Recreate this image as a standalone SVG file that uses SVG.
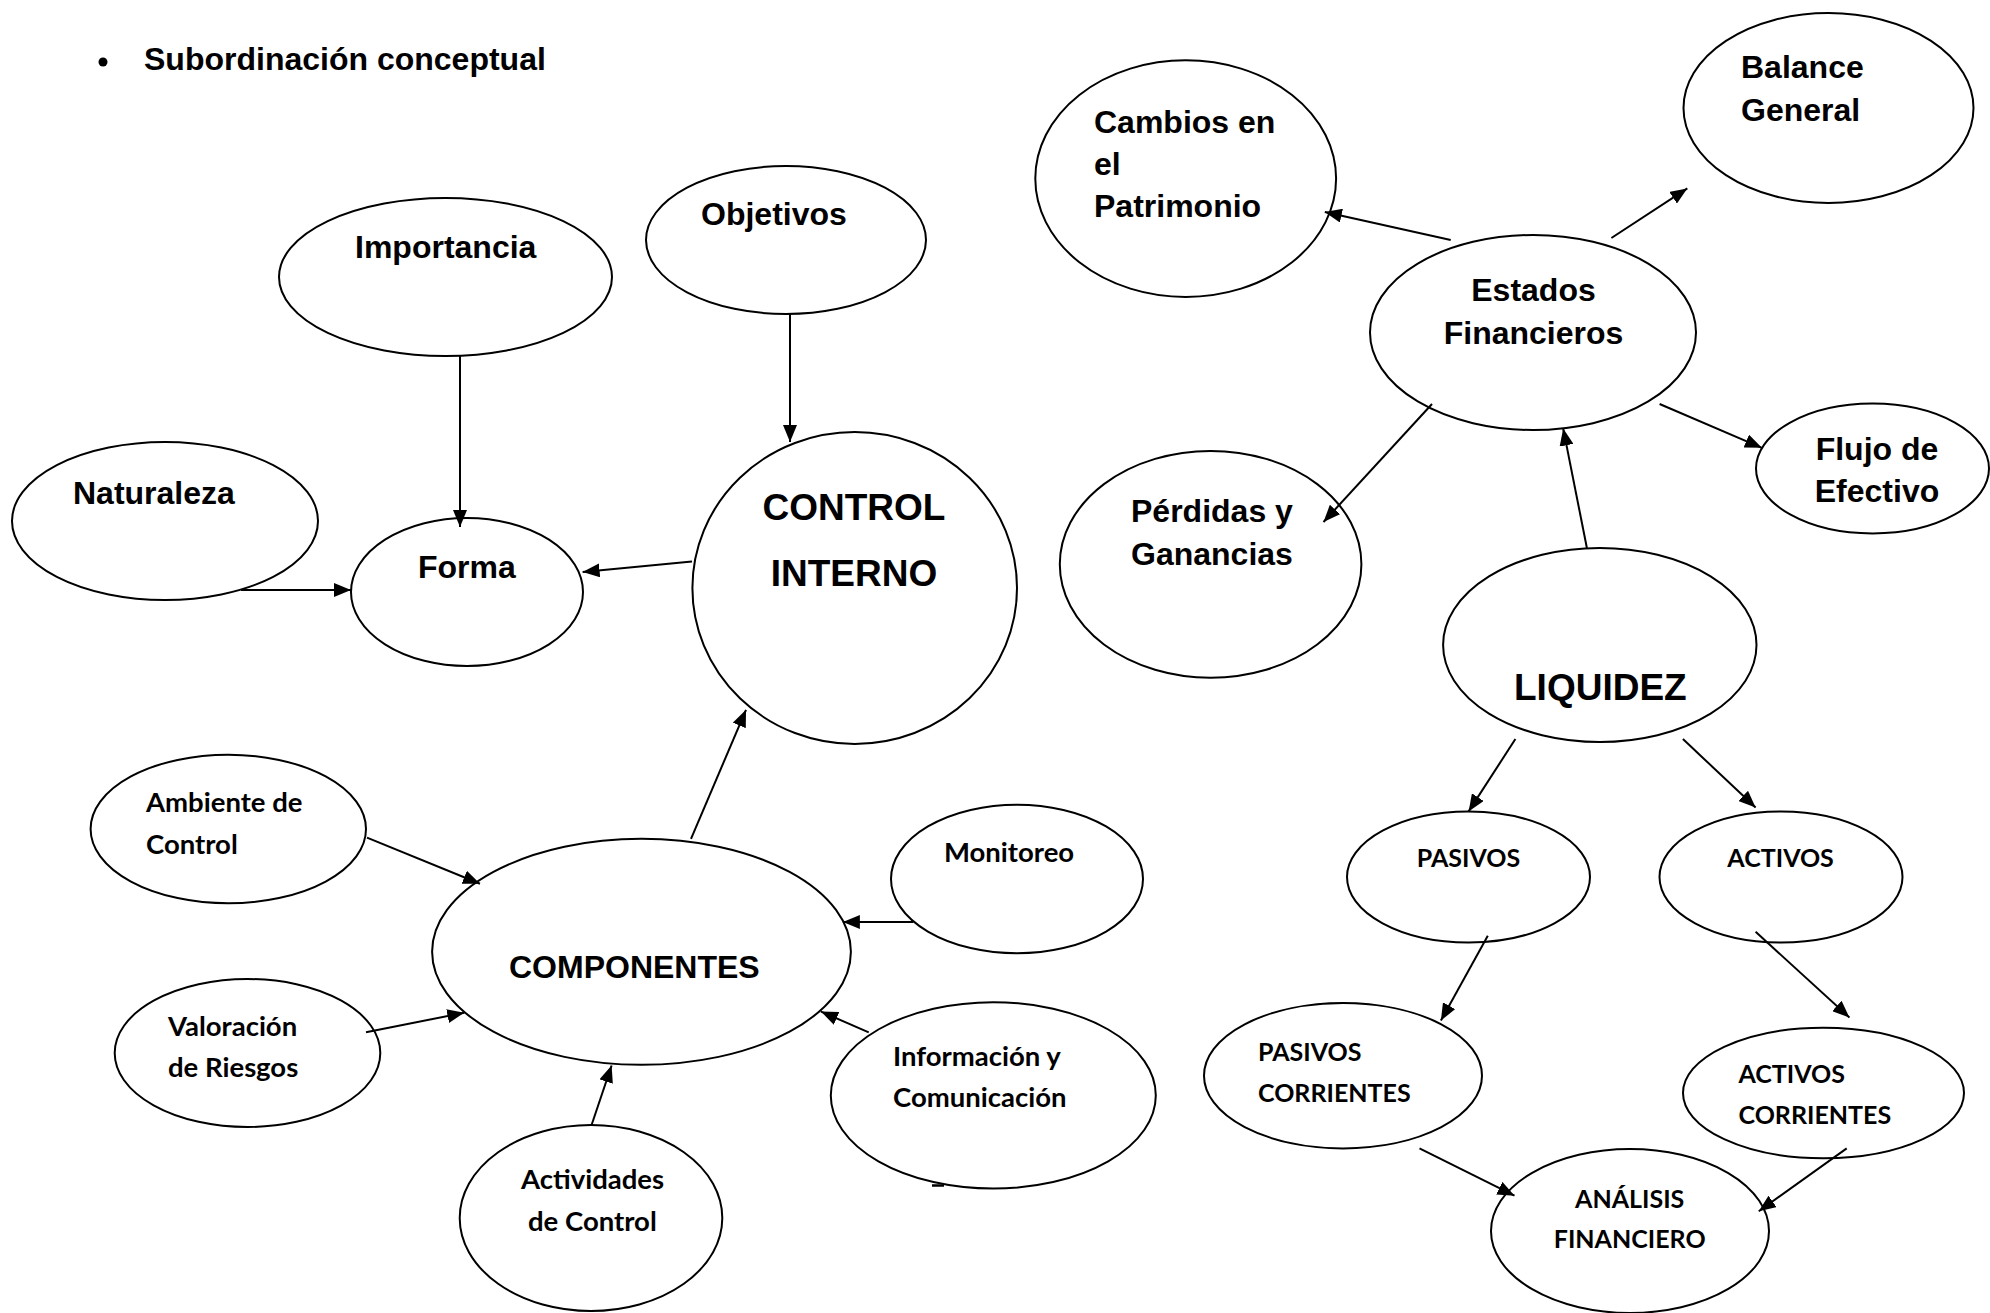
<svg xmlns="http://www.w3.org/2000/svg" width="1990" height="1313" viewBox="0 0 1990 1313">
  <style>
    .node ellipse { fill: #ffffff; stroke: #000000; stroke-width: 2; }
    .a { font-family: "Liberation Sans", Arial, sans-serif; font-weight: bold; font-size: 32px; fill: #000000; }
    .big { font-size: 37px; }
    .c { font-family: Lato, "Open Sans", sans-serif; font-weight: bold; font-size: 27.5px; fill: #000000; }
    .caps { font-size: 25px; }
    .mid { text-anchor: middle; }
    #connectors line { stroke: #000000; stroke-width: 2; fill: none; marker-end: url(#arrow); }
  </style>
  <defs>
    <marker id="arrow" markerUnits="userSpaceOnUse" markerWidth="18" markerHeight="14" refX="17" refY="7" orient="auto">
      <path d="M0,0 L17,7 L0,14 Z" fill="#000000"/>
    </marker>
  </defs>

  <rect x="0" y="0" width="1990" height="1313" fill="#ffffff"/>

  <!-- heading -->
  <g id="heading">
    <circle cx="103" cy="62" r="4.5" fill="#000000"/>
    <text class="a" x="144" y="70">Subordinación conceptual</text>
  </g>

  <!-- control interno cluster -->
  <g id="importancia" class="node">
    <ellipse cx="445.5" cy="277" rx="166.5" ry="79"/>
    <text class="a" x="355" y="258">Importancia</text>
  </g>
  <g id="naturaleza" class="node">
    <ellipse cx="165" cy="521" rx="153" ry="79"/>
    <text class="a" x="73" y="504">Naturaleza</text>
  </g>
  <g id="forma" class="node">
    <ellipse cx="467" cy="592" rx="116" ry="74"/>
    <text class="a" x="418" y="578">Forma</text>
  </g>
  <g id="objetivos" class="node">
    <ellipse cx="786" cy="240" rx="140" ry="74"/>
    <text class="a" x="701" y="225">Objetivos</text>
  </g>
  <g id="control-interno" class="node">
    <ellipse cx="854.7" cy="588" rx="162.3" ry="156"/>
    <text class="a big mid" x="854" y="520">CONTROL</text>
    <text class="a big mid" x="854" y="586">INTERNO</text>
  </g>
  <g id="componentes" class="node">
    <ellipse cx="641.5" cy="951.8" rx="209.4" ry="113"/>
    <text class="a" x="509" y="978">COMPONENTES</text>
  </g>
  <g id="ambiente" class="node">
    <ellipse cx="228.3" cy="829" rx="137.7" ry="74.3"/>
    <text class="c" x="146" y="812">Ambiente de</text>
    <text class="c" x="146" y="853.5">Control</text>
  </g>
  <g id="valoracion" class="node">
    <ellipse cx="247.5" cy="1053" rx="132.8" ry="74"/>
    <text class="c" x="168" y="1035.5">Valoración</text>
    <text class="c" x="168" y="1076.5">de Riesgos</text>
  </g>
  <g id="actividades" class="node">
    <ellipse cx="591" cy="1218" rx="131.3" ry="93"/>
    <text class="c" x="521" y="1189">Actividades</text>
    <text class="c" x="528" y="1231">de Control</text>
  </g>
  <g id="monitoreo" class="node">
    <ellipse cx="1017" cy="879" rx="126" ry="74.3"/>
    <text class="c" x="944" y="861.5">Monitoreo</text>
  </g>
  <g id="informacion" class="node">
    <ellipse cx="993.3" cy="1095.4" rx="162.5" ry="93.2"/>
    <text class="c" x="893" y="1065.5">Información y</text>
    <text class="c" x="893" y="1106.5">Comunicación</text>
  </g>

  <!-- estados financieros cluster -->
  <g id="cambios" class="node">
    <ellipse cx="1185.7" cy="178.6" rx="150.4" ry="118.3"/>
    <text class="a" x="1094" y="133">Cambios en</text>
    <text class="a" x="1094" y="175">el</text>
    <text class="a" x="1094" y="217">Patrimonio</text>
  </g>
  <g id="balance" class="node">
    <ellipse cx="1828.5" cy="108" rx="145" ry="95"/>
    <text class="a" x="1741" y="78">Balance</text>
    <text class="a" x="1741" y="120.5">General</text>
  </g>
  <g id="estados" class="node">
    <ellipse cx="1533" cy="332.5" rx="163" ry="97.5"/>
    <text class="a mid" x="1533.5" y="301">Estados</text>
    <text class="a mid" x="1533.5" y="344">Financieros</text>
  </g>
  <g id="perdidas" class="node">
    <ellipse cx="1210.6" cy="564.3" rx="150.8" ry="113.4"/>
    <text class="a" x="1131" y="522">Pérdidas y</text>
    <text class="a" x="1131" y="565">Ganancias</text>
  </g>
  <g id="flujo" class="node">
    <ellipse cx="1872.5" cy="468.5" rx="116.5" ry="65"/>
    <text class="a mid" x="1877" y="460">Flujo de</text>
    <text class="a mid" x="1877" y="502">Efectivo</text>
  </g>
  <g id="liquidez" class="node">
    <ellipse cx="1599.8" cy="645" rx="156.7" ry="97"/>
    <text class="a big" x="1514" y="700">LIQUIDEZ</text>
  </g>
  <g id="pasivos" class="node">
    <ellipse cx="1468.5" cy="877" rx="121.5" ry="65.5"/>
    <text class="c caps mid" x="1468.5" y="867">PASIVOS</text>
  </g>
  <g id="activos" class="node">
    <ellipse cx="1781" cy="877" rx="121.5" ry="65.5"/>
    <text class="c caps mid" x="1780.6" y="867">ACTIVOS</text>
  </g>
  <g id="pasivos-corrientes" class="node">
    <ellipse cx="1343" cy="1075.7" rx="139" ry="72.7"/>
    <text class="c caps" x="1258" y="1060.5">PASIVOS</text>
    <text class="c caps" x="1258" y="1101.5">CORRIENTES</text>
  </g>
  <g id="activos-corrientes" class="node">
    <ellipse cx="1823.5" cy="1093" rx="140.5" ry="65.3"/>
    <text class="c caps" x="1738.5" y="1083">ACTIVOS</text>
    <text class="c caps" x="1738.5" y="1123.5">CORRIENTES</text>
  </g>
  <g id="analisis" class="node">
    <ellipse cx="1630" cy="1231" rx="139" ry="82"/>
    <text class="c caps mid" x="1629.7" y="1207.5">ANÁLISIS</text>
    <text class="c caps mid" x="1629.7" y="1248">FINANCIERO</text>
  </g>

  <!-- connectors -->
  <g id="connectors">
    <line x1="460" y1="356" x2="460" y2="527"/>
    <line x1="241" y1="590" x2="351" y2="590"/>
    <line x1="692" y1="561.6" x2="582.6" y2="572"/>
    <line x1="790" y1="314" x2="790" y2="442"/>
    <line x1="691" y1="838.8" x2="746" y2="709.8"/>
    <line x1="367" y1="837.6" x2="480" y2="883.7"/>
    <line x1="366" y1="1032.3" x2="464.3" y2="1012.7"/>
    <line x1="591.5" y1="1125.3" x2="611.6" y2="1065.5"/>
    <line x1="913.4" y1="922" x2="842.9" y2="922"/>
    <line x1="868.75" y1="1032.3" x2="821" y2="1011.6"/>
    <line x1="1450.7" y1="240" x2="1324.8" y2="212"/>
    <line x1="1611.4" y1="238" x2="1687.3" y2="188.4"/>
    <line x1="1659.6" y1="404" x2="1761.9" y2="447.8"/>
    <line x1="1432" y1="404" x2="1323.5" y2="522"/>
    <line x1="1586.9" y1="548" x2="1563.2" y2="428.6"/>
    <line x1="1515.4" y1="739" x2="1468.6" y2="811.4"/>
    <line x1="1682.9" y1="739" x2="1755.6" y2="807.5"/>
    <line x1="1487.8" y1="935.7" x2="1440.9" y2="1020.6"/>
    <line x1="1755.6" y1="931.8" x2="1849.4" y2="1017.4"/>
    <line x1="1419.5" y1="1148.4" x2="1514.5" y2="1195.7"/>
    <line x1="1846.7" y1="1148.4" x2="1758.75" y2="1211.3"/>
  </g>

  <!-- small stroke just under the Información ellipse -->
  <line x1="932" y1="1185.5" x2="944" y2="1185.5" stroke="#000000" stroke-width="2.5"/>
</svg>
